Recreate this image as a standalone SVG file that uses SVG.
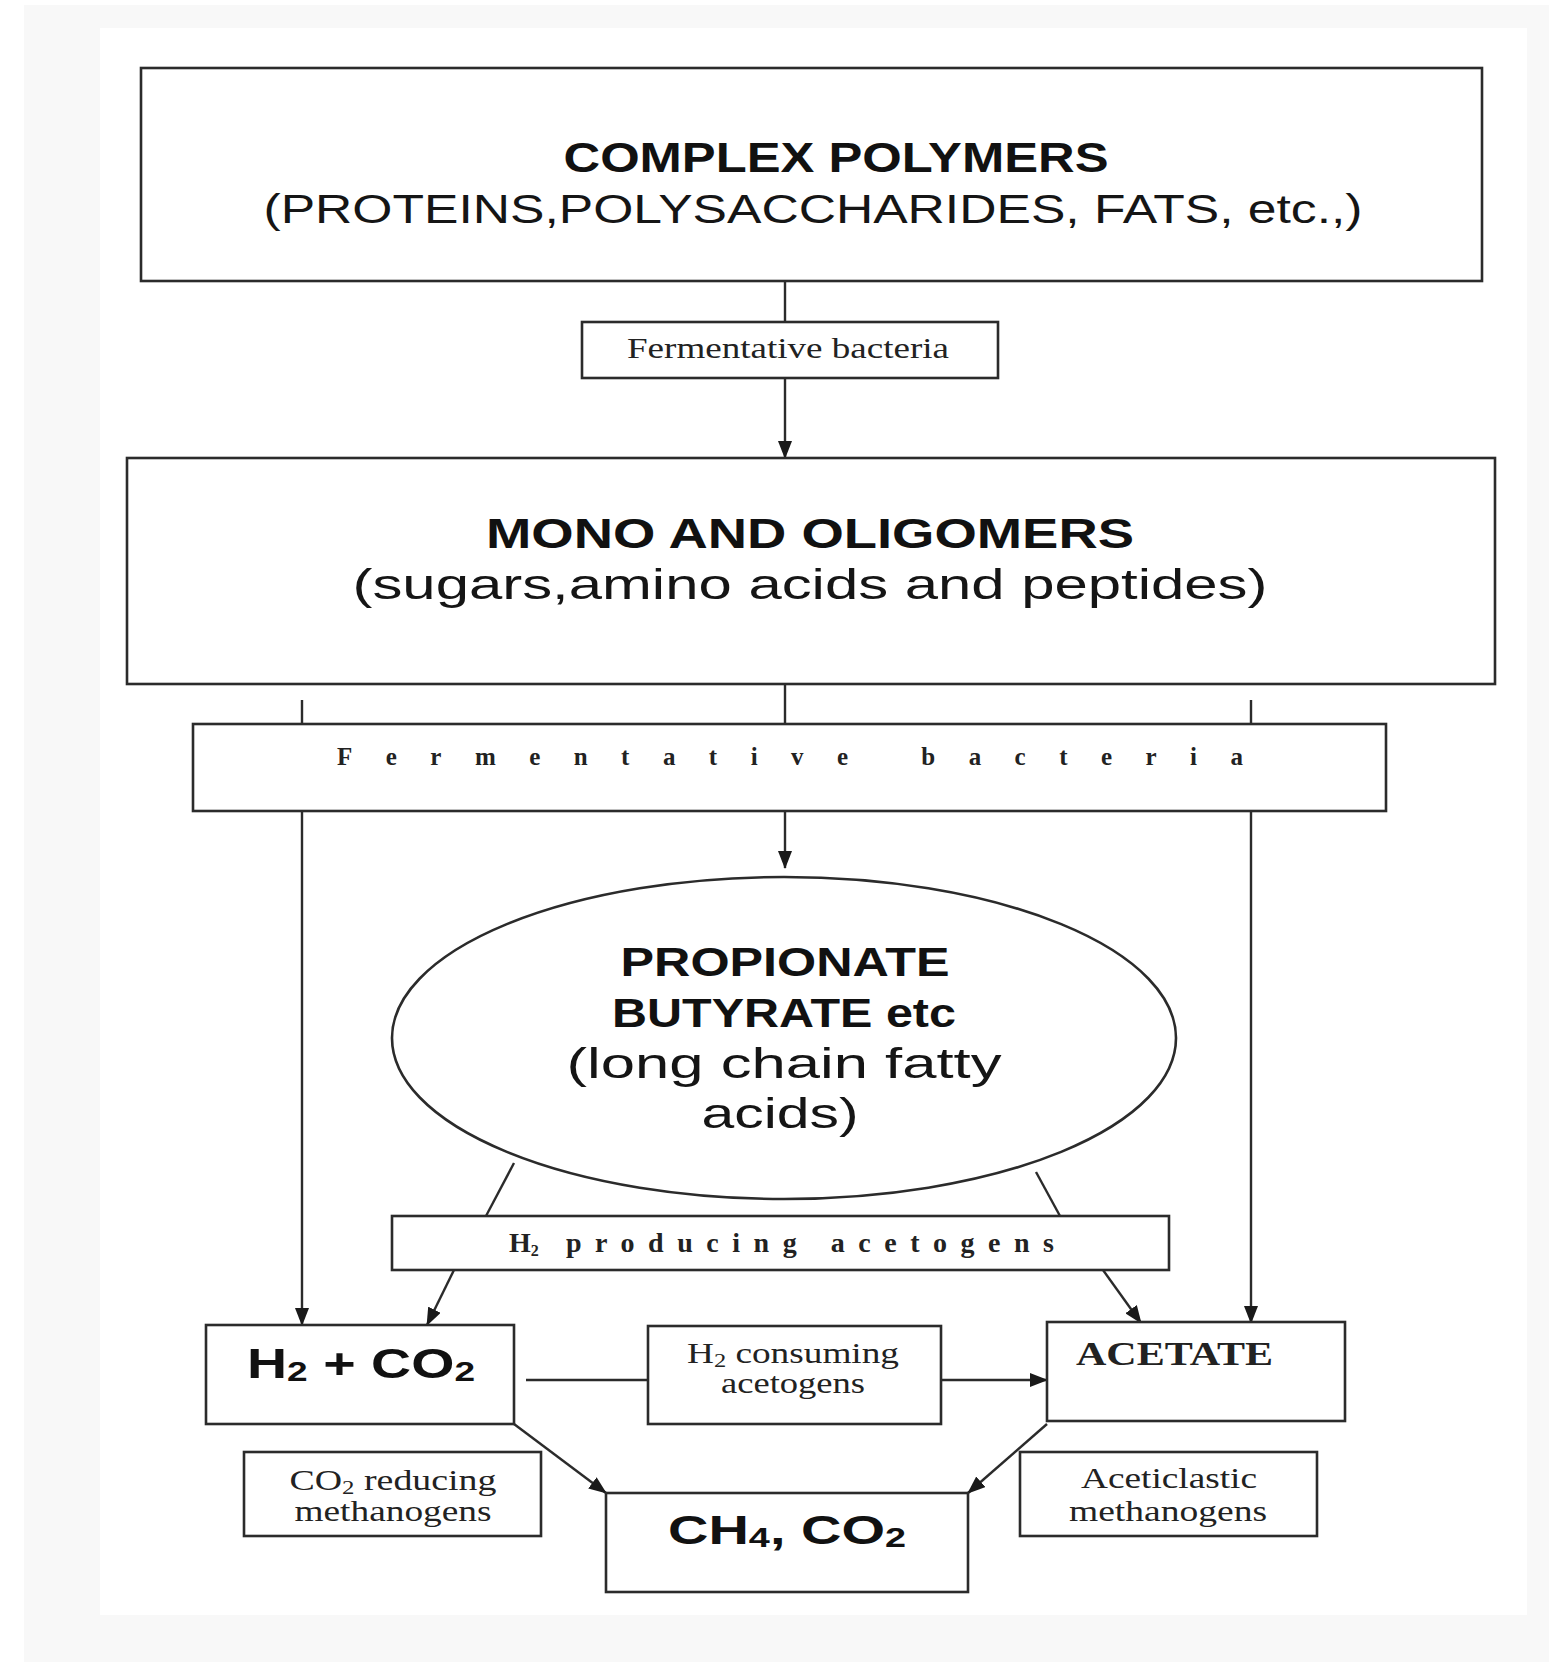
<svg xmlns="http://www.w3.org/2000/svg" width="1549" height="1662" viewBox="0 0 1549 1662">
<style>
.box{fill:#fff;stroke:#2b2b2b;stroke-width:2.6}
.ln{fill:none;stroke:#2b2b2b;stroke-width:2.4}
.sb{font-family:"Liberation Sans",Arial,sans-serif;font-weight:bold;fill:#111}
.sr{font-family:"Liberation Sans",Arial,sans-serif;fill:#151515}
.ser{font-family:"Liberation Serif","Times New Roman",serif;fill:#222}
</style>
<defs>
<marker id="ah" viewBox="0 0 18 14" refX="17" refY="7" markerWidth="18" markerHeight="14" markerUnits="userSpaceOnUse" orient="auto">
<path d="M0,0 L18,7 L0,14 z" fill="#1a1a1a"/>
</marker>
</defs>
<rect x="0" y="0" width="1549" height="1662" fill="#fff"/>
<rect x="24" y="5" width="1525" height="1657" fill="#f8f8f8"/>
<rect x="100" y="28" width="1427" height="1587" fill="#fff"/>

<g id="connectors">
<line class="ln" x1="785" y1="281" x2="785" y2="321"/>
<line class="ln" x1="785" y1="377" x2="785" y2="458" marker-end="url(#ah)"/>
<line class="ln" x1="785" y1="684" x2="785" y2="724"/>
<line class="ln" x1="785" y1="811" x2="785" y2="868" marker-end="url(#ah)"/>
<line class="ln" x1="302" y1="700" x2="302" y2="1325" marker-end="url(#ah)"/>
<line class="ln" x1="1251" y1="700" x2="1251" y2="1323" marker-end="url(#ah)"/>
<line class="ln" x1="514" y1="1163" x2="486" y2="1216"/>
<line class="ln" x1="1036" y1="1172" x2="1060" y2="1216"/>
<line class="ln" x1="454" y1="1270" x2="427" y2="1325" marker-end="url(#ah)"/>
<line class="ln" x1="1103" y1="1270" x2="1141" y2="1323" marker-end="url(#ah)"/>
<line class="ln" x1="526" y1="1380" x2="648" y2="1380" stroke="#555" stroke-width="3.2"/>
<line class="ln" x1="941" y1="1380" x2="1047" y2="1380" stroke="#555" stroke-width="3.2" marker-end="url(#ah)"/>
<line class="ln" x1="514" y1="1424" x2="606" y2="1493" marker-end="url(#ah)"/>
<line class="ln" x1="1047" y1="1424" x2="968" y2="1493" marker-end="url(#ah)"/>
</g>

<g id="complex-polymers">
<rect class="box" x="141" y="68" width="1341" height="213"/>
<text class="sb" x="836" y="172" font-size="42" text-anchor="middle" textLength="545" lengthAdjust="spacingAndGlyphs">COMPLEX POLYMERS</text>
<text class="sr" x="813" y="223" font-size="40" text-anchor="middle" textLength="1099" lengthAdjust="spacingAndGlyphs">(PROTEINS,POLYSACCHARIDES, FATS, etc.,)</text>
</g>

<g id="fermentative-1">
<rect class="box" x="582" y="322" width="416" height="56"/>
<text class="ser" x="788" y="358" font-size="30" text-anchor="middle" textLength="322" lengthAdjust="spacingAndGlyphs">Fermentative bacteria</text>
</g>

<g id="mono-oligomers">
<rect class="box" x="127" y="458" width="1368" height="226"/>
<text class="sb" x="810" y="548" font-size="42" text-anchor="middle" textLength="648" lengthAdjust="spacingAndGlyphs">MONO AND OLIGOMERS</text>
<text class="sr" x="810" y="599" font-size="42" text-anchor="middle" textLength="915" lengthAdjust="spacingAndGlyphs">(sugars,amino acids and peptides)</text>
</g>

<g id="fermentative-2">
<rect class="box" x="193" y="724" width="1193" height="87"/>
<text class="ser" x="337" y="765" font-size="25" font-weight="bold" fill="#333" textLength="906" lengthAdjust="spacing">Fermentative bacteria</text>
</g>

<g id="propionate">
<ellipse class="box" cx="784" cy="1038" rx="392" ry="161"/>
<text class="sb" x="785" y="976" font-size="40" text-anchor="middle" textLength="329" lengthAdjust="spacingAndGlyphs">PROPIONATE</text>
<text class="sb" x="784" y="1027" font-size="40" text-anchor="middle" textLength="344" lengthAdjust="spacingAndGlyphs">BUTYRATE etc</text>
<text class="sr" x="784" y="1078" font-size="42" text-anchor="middle" textLength="435" lengthAdjust="spacingAndGlyphs">(long chain fatty</text>
<text class="sr" x="780" y="1128" font-size="42" text-anchor="middle" textLength="157" lengthAdjust="spacingAndGlyphs">acids)</text>
</g>

<g id="h2-producing">
<rect class="box" x="392" y="1216" width="777" height="54"/>
<text class="ser" x="509" y="1252" font-size="28" font-weight="bold">H<tspan font-size="16" dy="4">2</tspan></text>
<text class="ser" x="566" y="1252" font-size="28" font-weight="bold" textLength="488" lengthAdjust="spacing">producing acetogens</text>
</g>

<g id="h2-co2">
<rect class="box" x="206" y="1325" width="308" height="99"/>
<text class="sb" x="247" y="1378" font-size="42" textLength="228" lengthAdjust="spacingAndGlyphs">H<tspan font-size="28" dy="3">2</tspan><tspan dy="-3"> + CO</tspan><tspan font-size="28" dy="3">2</tspan></text>
</g>

<g id="h2-consuming">
<rect class="box" x="648" y="1326" width="293" height="98"/>
<text class="ser" x="793" y="1363" font-size="29" text-anchor="middle" textLength="212" lengthAdjust="spacingAndGlyphs">H<tspan font-size="19" dy="4">2</tspan><tspan dy="-4"> consuming</tspan></text>
<text class="ser" x="793" y="1393" font-size="29" text-anchor="middle" textLength="144" lengthAdjust="spacingAndGlyphs">acetogens</text>
</g>

<g id="acetate">
<rect class="box" x="1047" y="1322" width="298" height="99"/>
<text class="ser" x="1076" y="1365" font-size="33" font-weight="bold" fill="#111" textLength="197" lengthAdjust="spacingAndGlyphs">ACETATE</text>
</g>

<g id="co2-reducing">
<rect class="box" x="244" y="1452" width="297" height="84"/>
<text class="ser" x="393" y="1490" font-size="29" text-anchor="middle" textLength="207" lengthAdjust="spacingAndGlyphs">CO<tspan font-size="19" dy="4">2</tspan><tspan dy="-4"> reducing</tspan></text>
<text class="ser" x="393" y="1521" font-size="29" text-anchor="middle" textLength="197" lengthAdjust="spacingAndGlyphs">methanogens</text>
</g>

<g id="ch4-co2">
<rect class="box" x="606" y="1493" width="362" height="99"/>
<text class="sb" x="668" y="1544" font-size="40" textLength="238" lengthAdjust="spacingAndGlyphs">CH<tspan font-size="27" dy="3">4</tspan><tspan dy="-3">, CO</tspan><tspan font-size="27" dy="3">2</tspan></text>
</g>

<g id="aceticlastic">
<rect class="box" x="1020" y="1452" width="297" height="84"/>
<text class="ser" x="1169" y="1488" font-size="29" text-anchor="middle" textLength="176" lengthAdjust="spacingAndGlyphs">Aceticlastic</text>
<text class="ser" x="1168" y="1521" font-size="29" text-anchor="middle" textLength="198" lengthAdjust="spacingAndGlyphs">methanogens</text>
</g>
</svg>
